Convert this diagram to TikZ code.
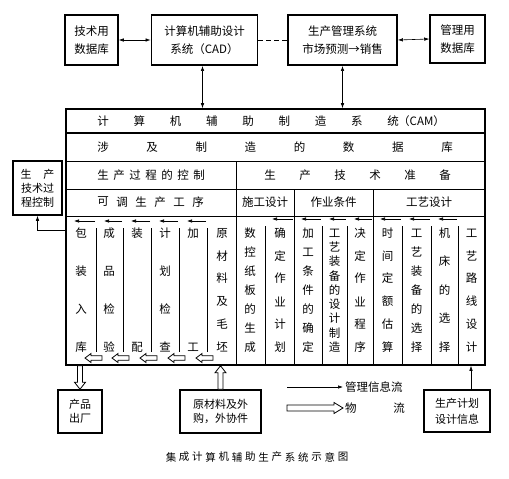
\documentclass[tikz,border=0pt]{standalone}
\usepackage{fontspec}
\setmainfont{Noto Sans CJK SC}
\usetikzlibrary{arrows.meta,calc}
\newcommand\spreadtext[6]{%
  \foreach \c [count=\i from 0] in {#6} {\node[rtxt] (#1-\i) at ({#2+(#3-#2)*\i/(#5-1)},#4) {\c};}}
\newcommand\colchars[4]{%
  \foreach \c [count=\i from 0] in {#4} {\node[ctxt] (#1-\i) at (#2,{233+114*\i/(#3-1)}) {\c};}}
\newcommand\hblock[6]{%
  \draw[hol] (#1,#3) -- ({#1+#4*sign(#2-#1)},{#3-#5}) -- ({#1+#4*sign(#2-#1)},{#3-#6}) -- (#2,{#3-#6}) -- (#2,{#3+#6}) -- ({#1+#4*sign(#2-#1)},{#3+#6}) -- ({#1+#4*sign(#2-#1)},{#3+#5}) -- cycle;}
\newcommand\vblock[2]{%
  \draw[hol] let \p1=(#1), \p2=(#2), \n1={sign(\y2-\y1)} in
   (\x1,\y1) -- (\x1-5.5pt,{\y1+\n1*7pt}) -- (\x1-2.5pt,{\y1+\n1*7pt}) -- (\x1-2.5pt,\y2) -- (\x1+2.5pt,\y2) -- (\x1+2.5pt,{\y1+\n1*7pt}) -- (\x1+5.5pt,{\y1+\n1*7pt}) -- cycle;}
\begin{document}
\begin{tikzpicture}[x=1pt,y=-1pt,
  box/.style={draw, line width=1.5pt, inner sep=0, align=center, font=\fontsize{11.5}{17.5}\selectfont},
  rtxt/.style={inner sep=0, font=\fontsize{11.5}{12}\selectfont},
  ctxt/.style={inner sep=0, font=\fontsize{11.5}{12}\selectfont},
  captxt/.style={inner sep=0, font=\fontsize{10.5}{12}\selectfont},
  hol/.style={draw, line width=0.8pt, fill=white},
  marr/.style={-{Latex[length=5pt,width=3.5pt]}, line width=0.6pt},
  dbl/.style={{Latex[length=5pt,width=3.5pt]}-{Latex[length=5pt,width=3.5pt]}, line width=0.6pt},
  thin/.style={line width=0.6pt},
  mid/.style={line width=0.9pt}]
\useasboundingbox (0,0) rectangle (509,479);

% top boxes
\node[box, minimum width=53pt, minimum height=50pt] (tech) at (91.5,40) {技术用\\数据库};
\node[box, line width=1.8pt, minimum width=106pt, minimum height=50pt] (cad) at (204.5,40) {计算机辅助设计\\系统（CAD）};
\node[box, line width=1.8pt, minimum width=109pt, minimum height=50pt] (mgmt) at (342.5,40) {生产管理系统\\市场预测→销售};
\node[box, minimum width=55pt, minimum height=48pt] (mdb) at (457.5,39) {管理用\\数据库};

% main box
\node[draw, line width=1.6pt, minimum width=419pt, minimum height=256pt, inner sep=0] (main) at (275.5,237) {};

\draw[dbl] (tech.east) -- (cad.west);
\draw[thin, dash pattern=on 5pt off 3pt] (cad.east) -- (mgmt.west);
\draw[dbl] (mgmt.east) -- (mdb.west);
\draw[dbl] ([xshift=-2pt]cad.south) -- ([xshift=-2pt]cad.south |- main.north);
\draw[dbl] (mgmt.south) -- (mgmt.south |- main.north);

% rows
\draw[line width=1.5pt] (main.west |- 0,133) -- (main.east |- 0,133);
\draw[mid] (main.west |- 0,161) -- (main.east |- 0,161);
\draw[thin] (main.west |- 0,189) -- (main.east |- 0,189);
\draw[thin] (main.west |- 0,216) -- (main.east |- 0,216);
\draw[thin] (236,161) -- (236,0 |- main.south);
\draw[thin] (294,189) -- (294,0 |- main.south);
\draw[thin] (373,189) -- (373,0 |- main.south);
\foreach \x in {96,123,151,179,207} {\draw[thin] (\x,228) -- (\x,352);}
\foreach \x in {265,322,347,402,431,458} {\draw[thin] (\x,226) -- (\x,0 |- main.south);}

% row texts
\spreadtext{cam}{103}{393}{121}{9}{计,算,机,辅,助,制,造,系,统}
\node[rtxt, anchor=west] (camx) at (398,121) {（CAM）};
\spreadtext{db}{103}{447}{147}{8}{涉,及,制,造,的,数,据,库}
\spreadtext{pc}{103}{199}{175}{7}{生,产,过,程,的,控,制}
\spreadtext{pt}{270}{445}{175}{6}{生,产,技,术,准,备}
\spreadtext{kt}{103}{198}{202}{6}{可,调,生,产,工,序}
\node[rtxt] (sg) at (265,202) {施工设计};
\node[rtxt] (zy) at (333.5,202) {作业条件};
\node[rtxt] (gy) at (429,202) {工艺设计};

% management info arrows in columns
\foreach \l/\r in {66/96,96/123,123/151,151/179,179/207}
  {\draw[marr] (\r-1,221) -- (\l+8,221);}
\foreach \l/\r in {265/294,294/322,322/347,347/373,373/402,402/431,431/458}
  {\draw[marr] (\r-1,219) -- (\l+7,219);}

% column texts
\colchars{a1}{81}{4}{包,装,入,库}
\colchars{a2}{109}{4}{成,品,检,验}
\colchars{a3}{137}{2}{装,配}
\colchars{a4}{165}{4}{计,划,检,查}
\colchars{a5}{193}{2}{加,工}
\colchars{a6}{222}{6}{原,材,料,及,毛,坯}
\colchars{b1}{250}{7}{数,控,纸,板,的,生,成}
\colchars{b2}{280}{6}{确,定,作,业,计,划}
\colchars{b3}{308}{7}{加,工,条,件,的,确,定}
\colchars{b4}{334.5}{9}{工,艺,装,备,的,设,计,制,造}
\colchars{b5}{360}{6}{决,定,作,业,程,序}
\colchars{b6}{387.5}{6}{时,间,定,额,估,算}
\colchars{b7}{416.5}{7}{工,艺,装,备,的,选,择}
\colchars{b8}{444.5}{5}{机,床,的,选,择}
\colchars{b9}{471.5}{6}{工,艺,路,线,设,计}

% material flow arrows inside
\foreach \t in {85,112,140,168,196}
  {\hblock{\t}{\t+17}{358}{6}{4.5}{2.2}}

% left control box
\node[box, minimum width=49pt, minimum height=54pt, font=\fontsize{11}{14}\selectfont] (ctrl) at (37.5,188) {生\hspace{12pt}产\\技术过\\程控制};
\draw[marr] (main.west |- 0,230) -| (ctrl.south);

% lower boxes
\node[box, font=\fontsize{11}{14.5}\selectfont, minimum width=44pt, minimum height=43pt] (prod) at (80,411.5) {产品\\出厂};
\node[box, font=\fontsize{11}{14.5}\selectfont, minimum width=81pt, minimum height=43pt] (raw) at (220.5,411.5) {原材料及外\\购，外协件};
\node[box, font=\fontsize{11}{16}\selectfont, minimum width=66pt, minimum height=42pt] (plan) at (457,411) {生产计划\\设计信息};

\vblock{prod.north}{prod.north |- main.south}
\vblock{raw.north |- main.south}{raw.north}
\draw[marr] ([xshift=14pt]plan.north) -- ([xshift=14pt]plan.north |- main.south);

% legend
\coordinate (l1) at (287,387);
\coordinate (l2) at (343,387);
\draw[marr] (l1) -- (l2);
\node[rtxt, anchor=west] (lg1) at (345,387) {管理信息流};
\hblock{343}{287}{408}{9}{5.5}{3}
\node[rtxt, anchor=west] (lg2) at (345,408) {物};
\node[rtxt] (lg3) at (399,408) {流};

% caption
\foreach \c [count=\i from 0] in {集,成,计,算,机,辅,助,生,产,系,统,示,意,图}
  {\node[captxt] (cap-\i) at ({171+172*\i/13},457) {\c};}
\end{tikzpicture}
\end{document}
